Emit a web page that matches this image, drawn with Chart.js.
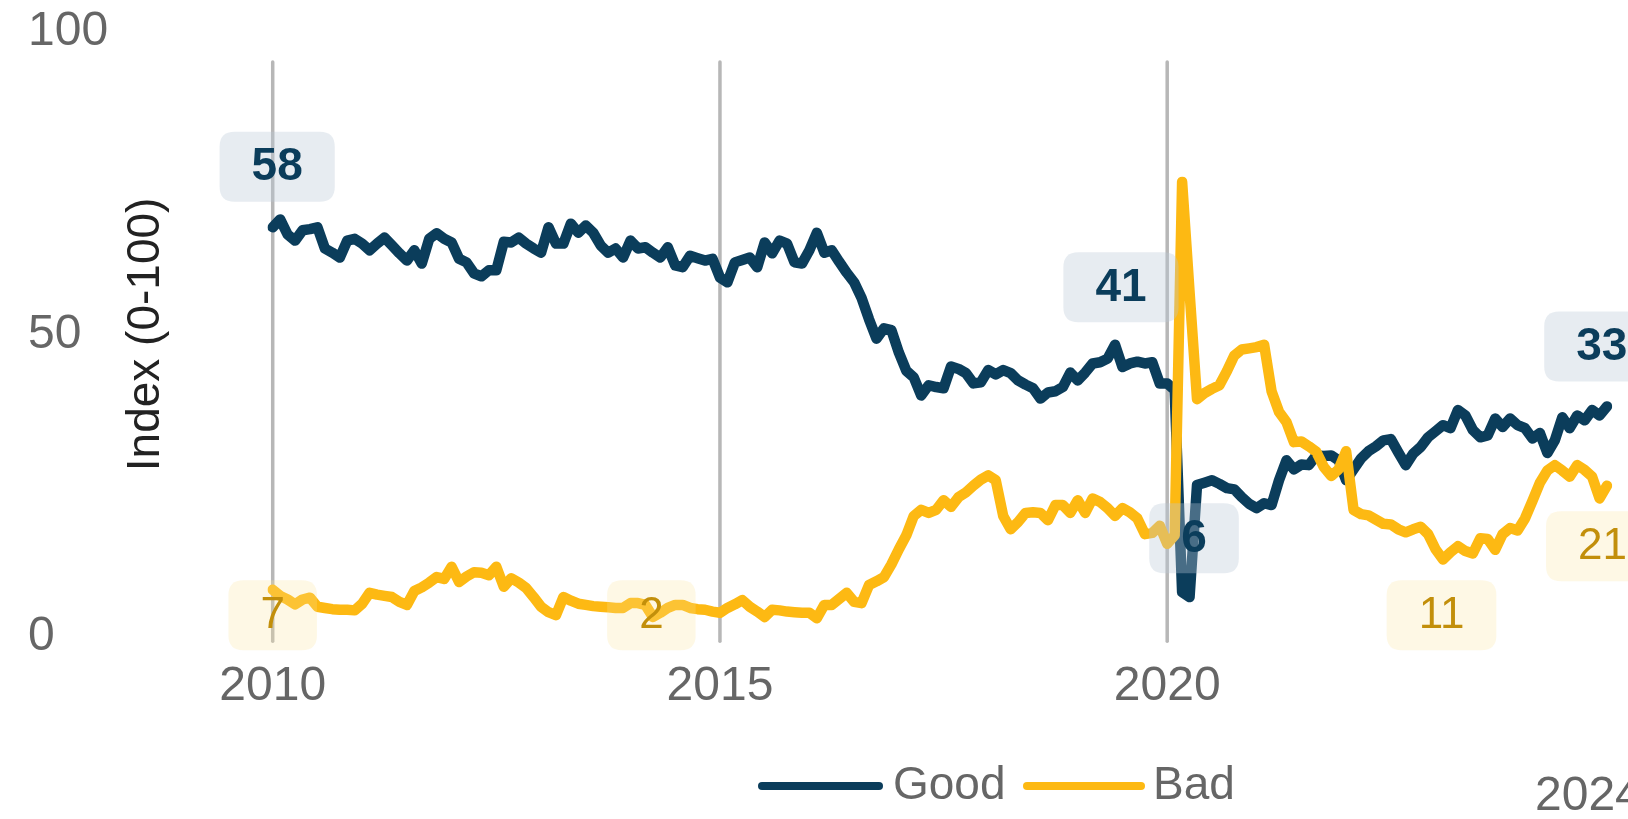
<!DOCTYPE html>
<html>
<head>
<meta charset="utf-8">
<script src="https://cdn.jsdelivr.net/npm/chart.js@4.4.1/dist/chart.umd.min.js"></script>
<style>
  html, body { margin: 0; padding: 0; background: #fff; }
  canvas { display: block; }
</style>
</head>
<body>
<canvas id="chart" width="1628" height="819"></canvas>
<script>
// monthly index, Jan 2010 .. Dec 2024
var startYear = 2010;
var tickYears = [2010, 2015, 2020];
var markerYears = [2010, 2015, 2020];
var endLabel = '2024';

var good = [
  67.7, 69.0, 66.5, 65.5, 67.2, 67.4, 67.7, 64.2, 63.5, 62.7, 65.5, 65.8,
  65.0, 63.9, 65.0, 66.0, 64.7, 63.4, 62.2, 63.9, 61.7, 65.8, 66.7, 65.8,
  65.2, 62.5, 61.9, 60.1, 59.6, 60.6, 60.6, 65.3, 65.2, 66.0, 65.0, 64.2,
  63.5, 67.7, 65.0, 65.0, 68.3, 66.8, 68.0, 66.8, 64.7, 63.5, 64.2, 62.7,
  65.5, 64.2, 64.4, 63.5, 62.7, 64.4, 61.4, 61.1, 63.0, 62.6, 62.2, 62.5,
  59.4, 58.6, 61.9, 62.3, 62.7, 61.1, 65.2, 63.4, 65.5, 65.0, 61.9, 61.7,
  63.9, 66.8, 63.5, 63.9, 62.0, 60.2, 58.6, 56.0, 52.5, 49.3, 51.0, 50.7,
  47.0, 44.0, 42.9, 39.9, 41.6, 41.3, 41.1, 44.7, 44.3, 43.6, 41.9, 42.1,
  44.1, 43.4, 44.1, 43.6, 42.4, 41.7, 41.1, 39.4, 40.4, 40.6, 41.3, 43.7,
  42.4, 43.7, 45.2, 45.4, 46.0, 48.3, 44.6, 45.2, 45.5, 45.2, 45.4, 41.9,
  41.9, 40.8, 7.4, 6.6, 25.1, 25.5, 25.9, 25.3, 24.6, 24.4, 23.1, 22.0,
  21.3, 22.1, 21.8, 25.9, 29.2, 27.7, 28.5, 28.4, 30.0, 29.9, 30.0, 29.2,
  25.9, 27.7, 29.5, 30.7, 31.5, 32.5, 32.7, 30.5, 28.4, 30.3, 31.4, 33.0,
  34.0, 35.0, 34.5, 37.5, 36.6, 34.2, 33.0, 33.3, 36.1, 34.7, 36.1, 35.0,
  34.5, 32.8, 33.7, 30.4, 32.5, 36.3, 34.5, 36.6, 35.8, 37.5, 36.6, 38.1
];

var bad = [
  7.8, 6.8, 6.2, 5.4, 6.2, 6.5, 5.0, 4.8, 4.6, 4.5, 4.5, 4.4,
  5.5, 7.3, 7.0, 6.8, 6.6, 5.8, 5.3, 7.6, 8.2, 9.0, 9.9, 9.6,
  11.6, 9.1, 10.0, 10.7, 10.6, 10.2, 11.6, 8.3, 9.7, 9.0, 8.1, 6.6,
  5.0, 4.1, 3.6, 6.6, 6.0, 5.5, 5.3, 5.1, 5.0, 4.9, 4.8, 4.8,
  5.6, 5.6, 5.3, 3.3, 4.0, 4.8, 5.3, 5.3, 4.8, 4.6, 4.5, 4.2,
  4.0, 4.8, 5.4, 6.1, 5.0, 4.2, 3.3, 4.5, 4.4, 4.2, 4.1, 4.0,
  4.0, 3.1, 5.3, 5.3, 6.3, 7.3, 5.8, 5.6, 8.6, 9.2, 9.9, 12.0,
  14.5, 16.8, 20.0, 21.0, 20.5, 21.0, 22.6, 21.5, 23.1, 23.9, 25.0, 26.0,
  26.7, 25.9, 20.0, 17.8, 19.0, 20.5, 20.6, 20.5, 19.3, 21.8, 21.8, 20.5,
  22.6, 20.5, 22.9, 22.3, 21.3, 20.0, 21.3, 20.6, 19.6, 17.0, 17.2, 18.4,
  15.4, 16.8, 75.2, 57.0, 39.3, 40.3, 41.0, 41.6, 43.9, 46.5, 47.5, 47.7,
  47.9, 48.3, 40.6, 37.2, 35.5, 32.2, 32.3, 31.5, 30.6, 28.1, 26.6, 27.7,
  30.7, 21.0, 20.3, 20.1, 19.4, 18.7, 18.6, 17.8, 17.3, 17.8, 18.2, 17.0,
  14.5, 12.8, 14.0, 15.0, 14.2, 13.8, 16.3, 16.2, 14.4, 17.0, 18.0, 17.6,
  19.6, 22.5, 25.5, 27.5, 28.4, 27.5, 26.5, 28.4, 27.6, 26.5, 22.9, 25.0
];

// value tags (month index, value position, text)
var goodTags = ['58', '41', '6', '33'];
var goodTagX = [0.6, 113.8, 123.6, 178.3];
var goodTagY = [77.7, 57.8, 16.3, 48.0];
var badTags = ['7', '2', '11', '21'];
var badTagX = [0, 50.8, 156.8, 178.4];
var badTagY = [3.6, 3.6, 3.6, 15.0];

var months = [];
for (var i = 0; i < good.length; i++) {
  var yy = startYear + Math.floor(i / 12);
  var mm = (i % 12) + 1;
  months.push(yy + '-' + (mm < 10 ? '0' + mm : mm));
}

var NAVY = '#0b3d5b';
var GOLD = '#fdb913';
var GOLD_TEXT = '#c28f0b';
var GREY = '#666666';
var FONT = 'Liberation Sans';

function roundBox(ctx, x, y, w, h, r) {
  ctx.beginPath();
  ctx.moveTo(x + r, y);
  ctx.lineTo(x + w - r, y);
  ctx.quadraticCurveTo(x + w, y, x + w, y + r);
  ctx.lineTo(x + w, y + h - r);
  ctx.quadraticCurveTo(x + w, y + h, x + w - r, y + h);
  ctx.lineTo(x + r, y + h);
  ctx.quadraticCurveTo(x, y + h, x, y + h - r);
  ctx.lineTo(x, y + r);
  ctx.quadraticCurveTo(x, y, x + r, y);
  ctx.closePath();
}

var markerPlugin = {
  id: 'markers',
  beforeDatasetsDraw: function (chart) {
    var ctx = chart.ctx, xs = chart.scales.x, ys = chart.scales.y;
    ctx.save();
    ctx.strokeStyle = '#b7b7b7';
    ctx.lineWidth = 3.5;
    ctx.lineCap = 'round';
    markerYears.forEach(function (yr) {
      var idx = months.indexOf(yr + '-01');
      var px = xs.getPixelForValue(idx);
      ctx.beginPath();
      ctx.moveTo(px, ys.getPixelForValue(95));
      ctx.lineTo(px, ys.getPixelForValue(-0.7));
      ctx.stroke();
    });
    ctx.restore();
  }
};

function drawTags(chart, texts, xs_, ys_, font, color, fill) {
  var ctx = chart.ctx, xs = chart.scales.x, ys = chart.scales.y;
  ctx.font = font;
  for (var i = 0; i < texts.length; i++) {
    var cx = xs.getPixelForValue(xs_[i]);
    var cy = ys.getPixelForValue(ys_[i]);
    var w = ctx.measureText(texts[i]).width + 64;
    var h = 70;
    ctx.fillStyle = fill;
    roundBox(ctx, cx - w / 2, cy - h / 2, w, h, 15);
    ctx.fill();
    ctx.fillStyle = color;
    ctx.textAlign = 'center';
    ctx.textBaseline = 'middle';
    ctx.fillText(texts[i], cx, cy + 1);
  }
}

var tagPlugin = {
  id: 'tags',
  afterDatasetsDraw: function (chart) {
    var ctx = chart.ctx;
    ctx.save();
    drawTags(chart, goodTags, goodTagX, goodTagY, 'bold 46px "' + FONT + '"', NAVY, 'rgba(186, 201, 214, 0.35)');
    drawTags(chart, badTags, badTagX, badTagY, '44px "' + FONT + '"', GOLD_TEXT, 'rgba(250, 226, 150, 0.25)');
    ctx.restore();
  }
};

var keyPlugin = {
  id: 'key',
  afterDraw: function (chart) {
    var ctx = chart.ctx;
    var y = 786;
    ctx.save();
    ctx.lineWidth = 8;
    ctx.lineCap = 'round';
    ctx.strokeStyle = NAVY;
    ctx.beginPath(); ctx.moveTo(762, y); ctx.lineTo(879, y); ctx.stroke();
    ctx.strokeStyle = GOLD;
    ctx.beginPath(); ctx.moveTo(1027, y); ctx.lineTo(1141, y); ctx.stroke();
    ctx.font = '46px "' + FONT + '"';
    ctx.fillStyle = GREY;
    ctx.textAlign = 'left';
    ctx.textBaseline = 'middle';
    ctx.fillText('Good', 893, y);
    ctx.fillText('Bad', 1153, y);
    ctx.font = '48px "' + FONT + '"';
    ctx.fillText(endLabel, 1535, 797);
    ctx.restore();
  }
};

new Chart(document.getElementById('chart'), {
  type: 'line',
  data: {
    labels: months,
    datasets: [{
      label: 'Good',
      data: good,
      borderColor: NAVY,
      borderWidth: 10.5,
      order: 1
    }, {
      label: 'Bad',
      data: bad,
      borderColor: GOLD,
      borderWidth: 10.5,
      order: 0
    }]
  },
  options: {
    responsive: false,
    devicePixelRatio: 1,
    animation: false,
    events: [],
    layout: { padding: { left: 28, top: 31, right: 20, bottom: 100 } },
    elements: {
      point: { radius: 0 },
      line: { tension: 0, borderJoinStyle: 'round', borderCapStyle: 'round', fill: false }
    },
    plugins: {
      legend: { display: false },
      tooltip: { enabled: false }
    },
    scales: {
      x: {
        grid: { display: false, drawTicks: false },
        border: { display: false },
        ticks: {
          autoSkip: false,
          maxRotation: 0,
          minRotation: 0,
          padding: 21,
          color: GREY,
          font: { family: FONT, size: 48 },
          callback: function (value, index) {
            var lbl = months[index];
            var yr = parseInt(lbl.slice(0, 4), 10);
            return (lbl.slice(5) === '01' && tickYears.indexOf(yr) >= 0) ? String(yr) : '';
          }
        },
        afterFit: function (s) { s.height = 82; }
      },
      y: {
        position: 'left',
        weight: 2,
        min: 0,
        max: 100,
        grid: { display: false, drawTicks: false },
        border: { display: false },
        ticks: {
          stepSize: 50,
          crossAlign: 'far',
          color: GREY,
          font: { family: FONT, size: 48 }
        },
        afterFit: function (s) { s.width = 91; }
      },
      yTitle: {
        type: 'linear',
        position: 'left',
        weight: 1,
        min: 0,
        max: 100,
        grid: { display: false, drawTicks: false },
        border: { display: false },
        ticks: { display: false },
        title: {
          display: true,
          text: 'Index (0-100)',
          color: '#222222',
          font: { family: FONT, size: 46 },
          padding: { top: 0, bottom: 0 }
        },
        afterFit: function (s) { s.width = 153.7; }
      }
    }
  },
  plugins: [markerPlugin, tagPlugin, keyPlugin]
});
</script>
</body>
</html>
